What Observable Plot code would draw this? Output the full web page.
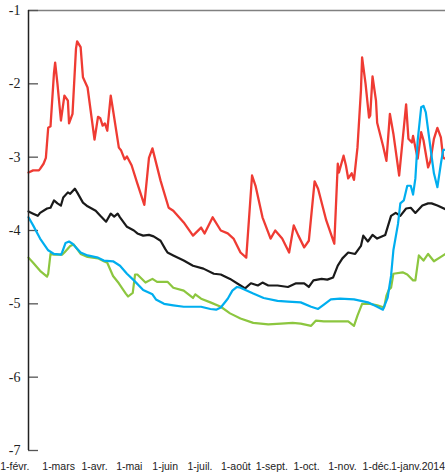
<!DOCTYPE html>
<html>
<head>
<meta charset="utf-8">
<script src="https://cdn.jsdelivr.net/npm/d3@7"></script>
<script src="https://cdn.jsdelivr.net/npm/@observablehq/plot@0.6"></script>
<style>
  html, body { margin: 0; padding: 0; background: #fff; }
  #chart svg { display: block; overflow: visible; }
</style>
</head>
<body>
<div id="chart"></div>
<script>
// ---- data (days counted from the first observation) ----
const startDate = "2013-02-03";
const endDay = 360;

const yTicks = [-1, -2, -3, -4, -5, -6, -7];
const monthDates = ["2013-02-01","2013-03-01","2013-04-01","2013-05-01","2013-06-01","2013-07-01",
  "2013-08-01","2013-09-01","2013-10-01","2013-11-01","2013-12-01","2014-01-01"];
const monthLabels = ["1-févr.","1-mars","1-avr.","1-mai","1-juin","1-juil.","1-août","1-sept.",
  "1-oct.","1-nov.","1-déc.","1-janv.2014"];

const redDays = [0,4,9,10,13,15,17,19,22,23,25,28,31,34,35,38,41,42,45,47,51,57,60,62,64,66,68,71,73,78,
  80,83,85,89,94,100,104,107,114,121,125,134,142,149,152,159,166,172,177,183,188,193,196,202,209,213,219,225,229,233,
  238,242,247,250,257,264,267,268,272,274,276,279,281,284,287,288,291,294,295,297,300,301,306,309,312,315,320,326,328,331,
  332,334,336,339,341,345,347,350,353,356,358,360];
const redValues = [-3.21,-3.18,-3.18,-3.16,-3.09,-3.01,-2.60,-2.58,-1.85,-1.71,-2.00,-2.50,-2.16,-2.23,-2.54,-2.41,-1.52,-1.42,-1.50,-1.91,
  -2.05,-2.76,-2.45,-2.47,-2.57,-2.54,-2.64,-2.16,-2.36,-2.87,-2.91,-3.03,-2.99,-3.11,-3.36,-3.65,-3.01,-2.88,-3.32,-3.69,
  -3.73,-3.89,-4.07,-3.96,-4.04,-3.82,-4.00,-4.04,-4.11,-4.30,-4.37,-3.25,-3.39,-3.82,-4.11,-4.00,-4.11,-4.30,-3.93,-4.07,
  -4.23,-4.14,-3.33,-3.43,-3.86,-4.18,-3.09,-3.21,-2.98,-3.11,-3.29,-3.22,-3.31,-2.87,-2.09,-1.64,-2.00,-2.46,-2.43,-1.90,
  -2.23,-2.53,-2.84,-3.05,-2.41,-2.68,-3.25,-2.28,-2.75,-2.80,-2.71,-2.87,-3.02,-2.66,-2.77,-3.14,-3.05,-2.75,-2.60,-2.73,
  -3.01,-3.02];

const blackDays = [0,4,8,10,16,19,22,25,28,30,34,36,40,42,47,51,58,62,67,71,74,77,79,85,91,94,99,104,108,114,
  118,120,125,134,142,151,160,166,174,183,187,192,198,202,207,215,224,231,238,242,246,253,258,263,267,271,276,282,287,289,
  293,297,301,308,313,317,321,326,330,334,340,345,348,353,360];
const blackValues = [-3.74,-3.77,-3.80,-3.76,-3.70,-3.69,-3.59,-3.63,-3.66,-3.55,-3.48,-3.50,-3.43,-3.48,-3.62,-3.67,-3.73,-3.80,-3.88,-3.77,
  -3.81,-3.77,-3.82,-3.95,-4.00,-4.04,-4.07,-4.06,-4.08,-4.14,-4.25,-4.30,-4.34,-4.41,-4.48,-4.52,-4.59,-4.60,-4.66,-4.75,
  -4.79,-4.72,-4.75,-4.71,-4.75,-4.75,-4.77,-4.72,-4.72,-4.77,-4.68,-4.66,-4.67,-4.64,-4.48,-4.38,-4.30,-4.32,-4.21,-4.07,
  -4.15,-4.06,-4.11,-4.06,-3.80,-3.76,-3.80,-3.70,-3.69,-3.76,-3.66,-3.63,-3.63,-3.66,-3.71];

const blueDays = [0,4,10,17,22,28,29,32,35,38,45,51,60,65,73,79,85,91,99,107,110,117,125,134,149,157,162,166,172,176,
  180,183,194,203,215,224,235,244,250,255,261,269,281,293,301,306,310,313,315,319,321,324,327,330,332,334,336,339,341,343,
  347,350,353,356,358,360];
const blueValues = [-3.82,-3.93,-4.11,-4.27,-4.32,-4.33,-4.30,-4.17,-4.15,-4.18,-4.30,-4.34,-4.37,-4.41,-4.42,-4.48,-4.59,-4.68,-4.81,-4.87,
  -4.94,-5.00,-5.02,-5.04,-5.04,-5.07,-5.08,-5.05,-4.93,-4.82,-4.77,-4.78,-4.86,-4.92,-4.96,-4.97,-4.98,-5.04,-5.07,-5.01,
  -4.94,-4.93,-4.94,-4.98,-5.04,-5.08,-4.92,-4.62,-4.27,-3.91,-3.63,-3.59,-3.39,-3.39,-3.51,-3.29,-2.77,-2.32,-2.30,-2.39,
  -2.87,-3.22,-3.41,-3.09,-2.90,-2.90];

const greenDays = [0,4,10,16,17,19,22,29,31,36,39,45,51,60,65,68,73,78,84,86,90,92,94,101,107,111,120,125,134,142,
  144,149,157,166,174,183,194,207,218,228,235,244,248,255,263,276,281,284,288,295,301,307,309,311,313,315,323,327,332,334,
  337,341,345,350,356,360];
const greenValues = [-4.37,-4.44,-4.55,-4.63,-4.59,-4.32,-4.33,-4.33,-4.30,-4.21,-4.19,-4.32,-4.36,-4.38,-4.42,-4.44,-4.62,-4.72,-4.86,-4.90,
  -4.85,-4.60,-4.60,-4.71,-4.66,-4.70,-4.70,-4.78,-4.82,-4.92,-4.87,-4.93,-4.98,-5.04,-5.13,-5.20,-5.26,-5.28,-5.27,-5.26,
  -5.27,-5.30,-5.23,-5.24,-5.24,-5.24,-5.30,-5.16,-5.00,-5.00,-5.02,-5.05,-4.89,-4.81,-4.78,-4.59,-4.57,-4.60,-4.68,-4.68,
  -4.34,-4.41,-4.32,-4.42,-4.36,-4.32];

// ---- build table ----
const t0 = d3.utcParse("%Y-%m-%d")(startDate);
const toRows = (name, days, vals) => days.map((d, i) => ({name, date: d3.utcDay.offset(t0, d), value: vals[i]}));
const red = toRows("red", redDays, redValues);
const black = toRows("black", blackDays, blackValues);
const blue = toRows("blue", blueDays, blueValues);
const green = toRows("green", greenDays, greenValues);
const ticksX = monthDates.map(s => d3.utcParse("%Y-%m-%d")(s));
const labelOf = new Map(ticksX.map((d, i) => [+d, monthLabels[i]]));
const nT = ticksX.length;

const W = 445, H = 472, ML = 28;
const xLabelFont = "'Liberation Sans Narrow','Arial Narrow','Liberation Sans',Arial,sans-serif";
const xAxisStyle = {tickSize: 0, tickPadding: 12, tickFormat: d => labelOf.get(+d), label: null,
  fontSize: 10.5, fontFamily: xLabelFont, fill: "#222"};

const chart = Plot.plot({
  width: W,
  height: H,
  marginLeft: ML,
  marginRight: 0,
  marginTop: 10,
  marginBottom: 22,
  style: {background: "#fff", overflow: "visible"},
  x: {type: "utc", domain: [t0, d3.utcDay.offset(t0, endDay)], label: null},
  y: {domain: [-7, -1], label: null},
  marks: [
    Plot.ruleY([-1], {stroke: "#808080", strokeWidth: 1.5}),
    Plot.tickY(yTicks, {y: d => d, stroke: "#555", strokeWidth: 1.3, insetRight: W - ML - 10}),
    Plot.line(green, {x: "date", y: "value", stroke: "#8cc63f", strokeWidth: 2.2}),
    Plot.line(red, {x: "date", y: "value", stroke: "#ef3b33", strokeWidth: 2.3}),
    Plot.line(black, {x: "date", y: "value", stroke: "#1a1a1a", strokeWidth: 2.2}),
    Plot.line(blue, {x: "date", y: "value", stroke: "#00aeef", strokeWidth: 2.2}),
    Plot.ruleX([t0], {stroke: "#222", strokeWidth: 1.5}),
    Plot.axisY(yTicks, {tickSize: 0, tickPadding: 8, tickFormat: d => String(d), label: null,
      fontSize: 14, fontFamily: "'Liberation Serif','DejaVu Serif',serif", fill: "#222"}),
    Plot.axisX(ticksX.slice(1, nT - 1), xAxisStyle),
    Plot.axisX(ticksX.slice(0, 1), {...xAxisStyle, textAnchor: "start", dx: -ML + 2}),
    Plot.axisX(ticksX.slice(nT - 1), {...xAxisStyle, textAnchor: "end", dx: 32})
  ]
});
document.getElementById("chart").appendChild(chart);
</script>
</body>
</html>
